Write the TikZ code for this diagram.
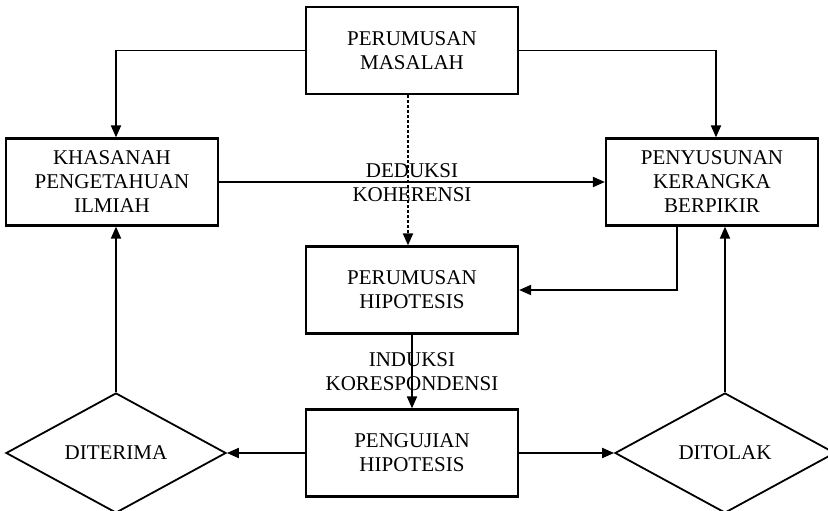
\documentclass[tikz,border=0pt]{standalone}
\usepackage{fontspec}
\setmainfont{Liberation Serif}
\usetikzlibrary{positioning,arrows.meta,calc,shapes.geometric}

\begin{document}
\begin{tikzpicture}[x=1pt,y=1pt,
  box/.style={draw,line width=2.2pt,minimum width=212pt,minimum height=87pt,inner sep=0pt,align=center,font=\fontsize{21}{24}\selectfont},
  dec/.style={draw,diamond,line width=1.8pt,minimum width=220pt,minimum height=120pt,inner sep=0pt,font=\fontsize{21}{24}\selectfont},
  lbl/.style={font=\fontsize{21}{24}\selectfont,align=center},
  ar/.style={-{Triangle[length=12pt,width=10pt]},line width=1.9pt}]
\useasboundingbox (0,0) rectangle (828,511);
\node[box] (mas) at (412,460.5) {PERUMUSAN\\MASALAH};
\node[box] (khas) at (112,329) {KHASANAH\\PENGETAHUAN\\ILMIAH};
\node[box] (peny) at (712,329) {PENYUSUNAN\\KERANGKA\\BERPIKIR};
\node[box] (hip) at (412,221) {PERUMUSAN\\HIPOTESIS};
\node[box] (uji) at (412,58) {PENGUJIAN\\HIPOTESIS};
\node[dec] (ter) at (116,58) {DITERIMA};
\node[dec] (tol) at (725,58) {DITOLAK};
\draw[ar] (mas.west) -| (ter |- khas.north);
\draw[ar] (mas.east) -| ($(peny.north)+(4,0)$);
\draw[ar,dash pattern=on 3pt off 2pt] ($(mas.south)+(-4,0)$) -- ($(hip.north)+(-4,0)$);
\draw[ar] (khas) -- (peny) node[lbl,midway,above] (ded) {DEDUKSI}
  node[lbl,midway,below=1pt] (koh) {KOHERENSI};
\draw[ar] ($(peny.south)+(-35,0)$) |- (hip);
\draw[ar] (hip) -- (uji) node[lbl,midway] (ind) {INDUKSI\\KORESPONDENSI};
\draw[ar] (uji) -- (ter);
\draw[ar] (uji) -- (tol);
\draw[ar] (ter) -- (ter |- khas.south);
\draw[ar] (tol) -- (tol |- peny.south);
\end{tikzpicture}
\end{document}
